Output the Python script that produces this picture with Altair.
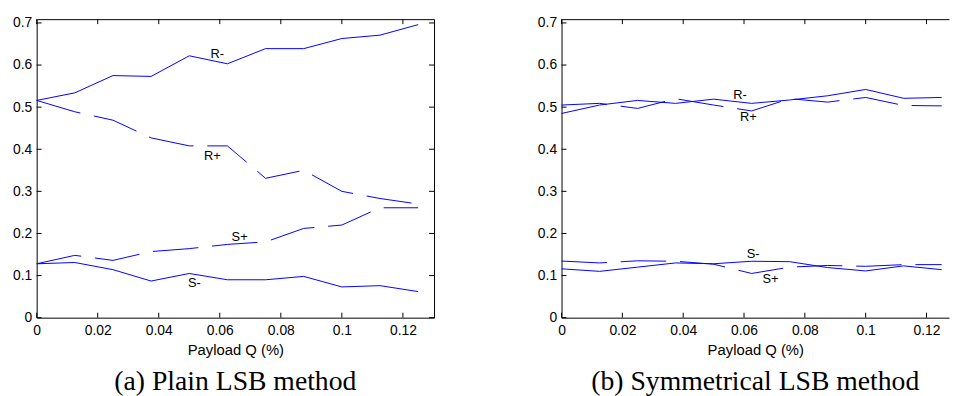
import altair as alt
import pandas as pd

# ---------------- data ----------------
Q = [0, 0.0125, 0.025, 0.0375, 0.05, 0.0625, 0.075, 0.0875, 0.1, 0.1125, 0.125]

# (a) Plain LSB method
A_R_MINUS = [0.516, 0.534, 0.575, 0.573, 0.622, 0.603, 0.639, 0.639, 0.663, 0.671, 0.696]
A_R_PLUS = [0.516, 0.489, 0.469, 0.427, 0.408, 0.408, 0.331, 0.350, 0.300, 0.283, 0.270]
A_S_PLUS = [0.128, 0.148, 0.136, 0.157, 0.164, 0.174, 0.180, 0.212, 0.220, 0.261, 0.261]
A_S_MINUS = [0.128, 0.131, 0.114, 0.087, 0.105, 0.090, 0.090, 0.098, 0.073, 0.076, 0.062]

# (b) Symmetrical LSB method
B_R_MINUS = [0.485, 0.505, 0.516, 0.509, 0.519, 0.509, 0.517, 0.527, 0.542, 0.521, 0.523]
B_R_PLUS = [0.505, 0.509, 0.497, 0.520, 0.505, 0.491, 0.520, 0.512, 0.523, 0.504, 0.503]
B_S_MINUS = [0.116, 0.110, 0.120, 0.130, 0.128, 0.134, 0.133, 0.119, 0.111, 0.123, 0.114]
B_S_PLUS = [0.1345, 0.130, 0.135, 0.134, 0.127, 0.105, 0.120, 0.124, 0.122, 0.126, 0.126]

LABELS = ["R-", "R+", "S+", "S-"]
A_LABEL_Q = [0.0592, 0.0576, 0.0665, 0.0517]
A_LABEL_V = [0.626, 0.385, 0.192, 0.083]
B_LABEL_Q = [0.0587, 0.0614, 0.0687, 0.0630]
B_LABEL_V = [0.529, 0.476, 0.092, 0.150]

X_TICKS = [0, 0.02, 0.04, 0.06, 0.08, 0.1, 0.12]
Y_TICKS = [0, 0.1, 0.2, 0.3, 0.4, 0.5, 0.6, 0.7]

CAPTIONS = ["(a) Plain LSB method", "(b) Symmetrical LSB method"]
X_TITLE = "Payload Q (%)"

# ---------------- style ----------------
BLUE = "#0000ff"
SANS = "Liberation Sans"
SERIF = "Liberation Serif"
H = 302
YMAX = 0.709
TICK_LEN = 5


def panel(series, dashed_names, lab_q, lab_v, xmax, width, caption, right_border):
    rows = []
    for name, vals in series.items():
        for q, v in zip(Q, vals):
            rows.append({"q": q, "v": v, "s": name, "dash": name in dashed_names})
    df = pd.DataFrame(rows)

    xs = alt.Scale(domain=[0, xmax], nice=False, zero=False)
    ys = alt.Scale(domain=[0, YMAX], nice=False, zero=False)

    x_axis = alt.Axis(
        values=X_TICKS, format="~g", ticks=False, tickSize=0, labelPadding=6,
        labelFont=SANS, labelFontSize=14, labelColor="black", labelFlush=False,
        labelOverlap=False, domain=True, domainColor="black", domainWidth=1,
        grid=False, title=X_TITLE, titleFont=SANS, titleFontSize=15,
        titleFontWeight="normal", titleColor="black", titlePadding=5,
    )
    y_axis = alt.Axis(
        values=Y_TICKS, format="~g", ticks=False, tickSize=0, labelPadding=5,
        labelFont=SANS, labelFontSize=14, labelColor="black", labelFlush=False,
        labelOverlap=False, domain=True, domainColor="black", domainWidth=1,
        grid=False, title=None,
    )
    top_axis = alt.Axis(orient="top", labels=False, ticks=False, domain=True,
                        domainColor="black", domainWidth=1, grid=False, title=None)
    right_axis = alt.Axis(orient="right", labels=False, ticks=False, domain=True,
                          domainColor="black", domainWidth=1, grid=False, title=None)

    solid = alt.Chart(df[~df["dash"]]).mark_line(
        color=BLUE, strokeWidth=1, strokeCap="butt"
    ).encode(
        x=alt.X("q:Q", scale=xs, axis=x_axis),
        y=alt.Y("v:Q", scale=ys, axis=y_axis),
        detail="s:N",
    )
    dashed = alt.Chart(df[df["dash"]]).mark_line(
        color=BLUE, strokeWidth=1, strokeDash=[46, 14], strokeCap="butt"
    ).encode(
        x=alt.X("q:Q", axis=None),
        y=alt.Y("v:Q", axis=None),
        detail="s:N",
    )
    lab_df = pd.DataFrame({"q": lab_q, "v": lab_v, "t": LABELS})
    labels = alt.Chart(lab_df).mark_text(
        font=SANS, fontSize=13, color="black", align="center", baseline="middle"
    ).encode(
        x=alt.X("q:Q", axis=None),
        y=alt.Y("v:Q", axis=None),
        text="t:N",
    )

    xt = pd.DataFrame({"q": X_TICKS})
    yt = pd.DataFrame({"v": Y_TICKS})
    bottom_ticks = alt.Chart(xt).mark_rule(color="black", strokeWidth=1).encode(
        x=alt.X("q:Q", axis=None), y=alt.value(H), y2=alt.value(H - TICK_LEN)
    )
    top_ticks = alt.Chart(xt).mark_rule(color="black", strokeWidth=1).encode(
        x=alt.X("q:Q", axis=top_axis), y=alt.value(0), y2=alt.value(TICK_LEN)
    )
    left_ticks = alt.Chart(yt).mark_rule(color="black", strokeWidth=1).encode(
        y=alt.Y("v:Q", axis=None), x=alt.value(0), x2=alt.value(TICK_LEN)
    )
    layers = [solid, dashed, labels, bottom_ticks, top_ticks, left_ticks]
    if right_border:
        right_ticks = alt.Chart(yt).mark_rule(color="black", strokeWidth=1).encode(
            y=alt.Y("v:Q", axis=right_axis), x=alt.value(width - TICK_LEN), x2=alt.value(width)
        )
        layers.append(right_ticks)

    return alt.layer(*layers).resolve_axis(x="independent", y="independent").properties(
        width=width,
        height=H,
        title=alt.TitleParams(
            text=caption, orient="bottom", anchor="middle", font=SERIF,
            fontSize=28, fontWeight="normal", color="black", offset=11,
        ),
    )


left = panel(
    {"R-": A_R_MINUS, "R+": A_R_PLUS, "S+": A_S_PLUS, "S-": A_S_MINUS},
    {"R+", "S+"}, A_LABEL_Q, A_LABEL_V, 0.1302, 402, CAPTIONS[0], True,
)
right = panel(
    {"R-": B_R_MINUS, "R+": B_R_PLUS, "S+": B_S_PLUS, "S-": B_S_MINUS},
    {"R+", "S+"}, B_LABEL_Q, B_LABEL_V, 0.1274, 392, CAPTIONS[1], False,
)

chart = alt.hconcat(left, right, spacing=103).properties(
    padding={"left": 4, "top": 5, "right": 0, "bottom": 0},
    background="white",
).configure_view(stroke="transparent")

chart.save("out.html", embed_options={"renderer": "svg", "actions": False})
